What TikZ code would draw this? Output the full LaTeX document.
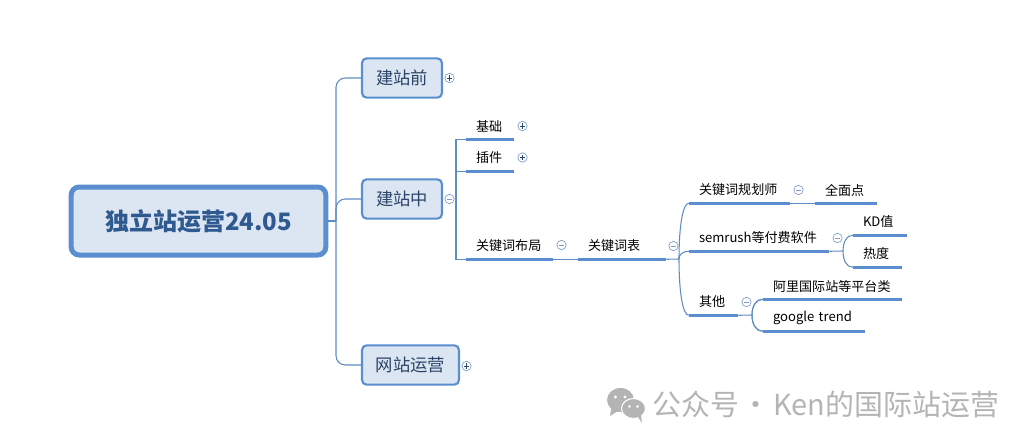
\documentclass[tikz,border=0pt]{standalone}
\usepackage{fontspec}
\setmainfont{Noto Sans CJK SC}
\usetikzlibrary{calc,shapes}
\definecolor{boxfill}{HTML}{DCE5F2}
\definecolor{boxline}{HTML}{5B8ECE}
\definecolor{linkline}{HTML}{5F8DC2}
\definecolor{rootink}{HTML}{2F5A90}
\definecolor{topicink}{HTML}{2B4468}
\definecolor{btnline}{HTML}{7F9DC4}
\definecolor{markgray}{HTML}{B4B4B4}
\tikzset{rootbox/.style={rounded corners=6pt,draw=boxline,line width=3.75pt,fill=boxfill,minimum width=191pt,minimum height=51pt,font=\fontsize{18}{20}\selectfont\bfseries,text=rootink},
topicbox/.style={rounded corners=3.5pt,draw=boxline,line width=1.6pt,fill=boxfill,minimum height=29.5pt,minimum width=#1*.75pt,font=\fontsize{13}{15}\selectfont,text=topicink},
subtopic/.style={inner xsep=7.5pt,inner ysep=0,text width=(#1-20)*.75pt,align=left,minimum height=19.5pt,font=\fontsize{9.8}{12}\selectfont,text=black},
topicline/.style={draw=boxline,line width=2.2pt},
linkthin/.style={draw=linkline,line width=.8pt},
btn/.style={circle,draw=btnline,line width=.5pt,fill=white,inner sep=0,minimum size=7pt},
btnminus/.style={btn,path picture={\draw[btnline,line width=.5pt](path picture bounding box.center)+(-2pt,0)--+(2pt,0);}},
btnplus/.style={btn,path picture={\draw[topicink,line width=.5pt](path picture bounding box.center)+(-2pt,0)--+(2pt,0)(path picture bounding box.center)+(0,-2pt)--+(0,2pt);}}}
\newcommand{\ForkLink}[2]{\draw[linkthin](#1)..controls($(#1)!.6!(#1|-#2.south west)$)and($(#2.south west)!.6!(#1|-#2.south west)$)..(#2.south west);}
\begin{document}
\begin{tikzpicture}[x=.75pt,y=-.75pt]
\useasboundingbox(0,0)rectangle(1031,446);
\coordinate(trunk)at(336,221);\coordinate(zhongfork)at(456,199);\coordinate(biaofork)at(679,259);
\coordinate(semfork)at(843,251);\coordinate(qitafork)at(752,315);
% first level
\node[rootbox](root)at(198.5,221){独立站运营24.05};
\node[topicbox=80](qian)at(402,78){建站前};
\node[topicbox=80](zhong)at(402,199){建站中};
\node[topicbox=97](yunying)at(410.5,365){网站运营};
\node[btnplus](qianbtn)at(449.5,78){};\node[btnminus](zhongbtn)at(449.5,199){};\node[btnplus](yunyingbtn)at(466.5,366){};
% links
\draw[linkthin,rounded corners=7pt](trunk)|-(qian.west);
\draw[linkthin,rounded corners=7pt](trunk)|-(zhong.west);
\draw[linkthin,rounded corners=7pt](trunk)|-(yunying.west);
\draw[linkthin](root.east)--(trunk);
% second level
\node[subtopic=48](jichu)at(490,126){基础};\node[btnplus](jichubtn)at(522.5,126){};
\node[subtopic=48](chajian)at(490,158){插件};\node[btnplus](chajianbtn)at(522.5,157.5){};
\node[subtopic=87](buju)at(509.5,246){关键词布局};\node[btnminus](bujubtn)at(561.5,245){};
\node[subtopic=88](biao)at(622,246){关键词表};\node[btnminus](biaobtn)at(673.5,246){};
\node[subtopic=101](guihua)at(739.5,190){关键词规划师};\node[btnminus](guihuabtn)at(798.5,190){};
\node[subtopic=62](quanmian)at(846,190){全面点};
\node[subtopic=140](sem)at(759,238){semrush等付费软件};\node[btnminus](sembtn)at(837.5,238){};
\node[subtopic=54](kd)at(880,222){KD值};\node[subtopic=49](redu)at(877.5,254){热度};
\node[subtopic=49](qita)at(713.5,302){其他};\node[btnminus](qitabtn)at(746.5,302){};
\node[subtopic=139](ali)at(832.5,286){阿里国际站等平台类};\node[subtopic=102](google)at(814,318){google trend};
% thin links
\draw[linkthin](zhongbtn)--(zhongfork);
\draw[linkthin](zhongfork)|-(jichu.south west);\draw[linkthin](zhongfork)|-(chajian.south west);\draw[linkthin](zhongfork)|-(buju.south west);
\draw[linkthin](buju.south east)--(biao.south west);\draw[linkthin](biao.south east)--(biaofork);
\foreach \n in {guihua,sem,qita}\ForkLink{biaofork}{\n}
\draw[linkthin](guihua.south east)--(quanmian.south west);
\draw[linkthin](sem.south east)--(semfork);\draw[linkthin](qita.south east)--(qitafork);
\foreach \n in {kd,redu}\ForkLink{semfork}{\n}
\foreach \n in {ali,google}\ForkLink{qitafork}{\n}
\foreach \n in {jichu,chajian,buju,biao,guihua,quanmian,sem,kd,redu,qita,ali,google}\draw[topicline](\n.south west)--(\n.south east);
% watermark
\fill[markgray](620.5,400)ellipse(13.5 and 12);\fill[markgray](611,409)--(610,416)--(618,411)--cycle;
\draw[white,fill=markgray,line width=.8pt](633.5,408.5)ellipse(12 and 10);\fill[markgray](638,417)--(642,423)--(641,415)--cycle;
\fill[white](615.5,397)circle(1.7)(625,397)circle(1.7)(629.5,406.5)circle(1.3)(637.5,406.5)circle(1.3);
\node[anchor=west,inner sep=0,text=markgray,font=\fontsize{21.7}{24}\selectfont](mark)at(652,404){公众号\hspace{2pt}·\hspace{2pt}Ken的国际站运营};
\end{tikzpicture}
\end{document}
